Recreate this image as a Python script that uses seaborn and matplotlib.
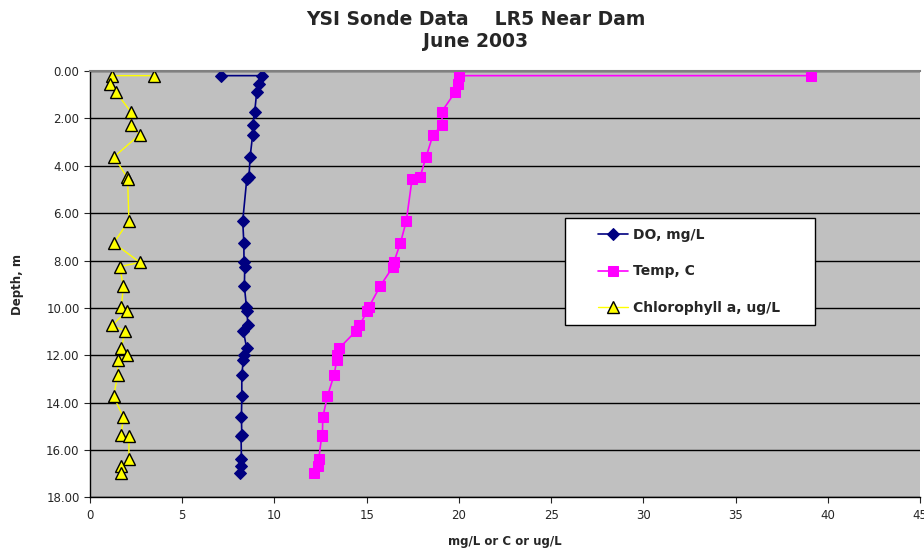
import numpy as np
import pandas as pd
import matplotlib
matplotlib.use('Agg')
import matplotlib.pyplot as plt
from matplotlib.lines import Line2D
from matplotlib.legend_handler import HandlerLine2D
import seaborn as sns

# sonde profile, first row is the surface reading
depth = [0.2, 0.2, 0.55, 0.88, 1.72, 2.28, 2.69, 3.63, 4.46, 4.56,
         6.33, 7.26, 8.08, 8.26, 9.08, 9.95, 10.12, 10.74, 10.97, 11.71,
         11.99, 12.21, 12.84, 13.73, 14.62, 15.38, 15.42, 16.38, 16.66, 16.98]
do_mgl = [7.09, 9.31, 9.16, 9.04, 8.93, 8.82, 8.82, 8.68, 8.62, 8.50,
          8.28, 8.34, 8.35, 8.39, 8.37, 8.48, 8.52, 8.55, 8.31, 8.50,
          8.37, 8.31, 8.23, 8.23, 8.21, 8.23, 8.19, 8.21, 8.16, 8.11]
temp_c = [39.08, 20.01, 19.97, 19.81, 19.07, 19.10, 18.60, 18.22, 17.90, 17.46,
          17.15, 16.83, 16.47, 16.43, 15.73, 15.13, 15.04, 14.61, 14.43, 13.50,
          13.38, 13.38, 13.23, 12.87, 12.62, 12.60, 12.56, 12.40, 12.35, 12.17]
chl_ugl = [3.47, 1.19, 1.08, 1.39, 2.21, 2.21, 2.69, 1.30, 1.99, 2.04,
           2.11, 1.28, 2.71, 1.61, 1.81, 1.70, 2.01, 1.19, 1.90, 1.70,
           2.02, 1.50, 1.50, 1.28, 1.81, 1.68, 2.11, 2.11, 1.70, 1.70]

df = pd.DataFrame({'depth': depth, 'do': do_mgl, 'temp': temp_c, 'chl': chl_ugl})

sns.set_style('white')
plt.rcParams['font.family'] = ['DejaVu Sans']

fig = plt.figure(figsize=(9.24, 5.54), dpi=100)
ax = fig.add_axes([0.0974, 0.102, 0.8983, 0.770])
ax.set_facecolor('#C0C0C0')

sns.lineplot(data=df, x='do', y='depth', sort=False, estimator=None, ax=ax,
             color='#000080', marker='D', markersize=6, markeredgecolor='#000080',
             linewidth=1.2, label='DO, mg/L')
sns.lineplot(data=df, x='temp', y='depth', sort=False, estimator=None, ax=ax,
             color='#FF00FF', marker='s', markersize=7, markeredgecolor='#FF00FF',
             linewidth=1.2, label='Temp, C')
sns.lineplot(data=df, x='chl', y='depth', sort=False, estimator=None, ax=ax,
             color='#FFFF00', marker='^', markersize=8, markeredgecolor='black',
             markeredgewidth=1.0, linewidth=1.0, label='Chlorophyll a, ug/L')

ax.set_xlim(0, 45)
ax.set_ylim(18, 0)
ax.set_xticks(range(0, 46, 5))
ax.set_yticks(np.arange(0, 18.1, 2))
ax.set_yticklabels([f'{v:.2f}' for v in np.arange(0, 18.1, 2)])
ax.yaxis.grid(True, color='black', linewidth=1)
ax.xaxis.grid(False)
ax.set_axisbelow(True)
ax.tick_params(axis='both', labelsize=8.5, length=4, direction='out', left=True, bottom=True)
ax.tick_params(axis='x', pad=4.5)

for side in ['left', 'bottom']:
    ax.spines[side].set_color('black')
    ax.spines[side].set_linewidth(1)
ax.spines['top'].set_color('#808080')
ax.spines['top'].set_linewidth(1.5)
ax.spines['right'].set_visible(False)

ax.set_xlabel('mg/L or C or ug/L', fontsize=8.5, fontweight='bold', labelpad=9)
ax.set_ylabel('Depth, m', fontsize=8.5, fontweight='bold', labelpad=16)
fig.text(0.515, 0.945, 'YSI Sonde Data    LR5 Near Dam\nJune 2003', fontsize=13.5,
         fontweight='bold', ha='center', va='center', linespacing=1.2)

leg = ax.legend(loc='upper left', bbox_to_anchor=(0.572, 0.40, 0.301, 0.255),
                mode='expand', frameon=True, fancybox=False, edgecolor='black',
                facecolor='white', framealpha=1, prop={'weight': 'bold', 'size': 10},
                borderpad=0.7, labelspacing=1.63, handlelength=3.83,
                handletextpad=0.36, borderaxespad=0,
                handler_map={Line2D: HandlerLine2D(xpad=1.68)})
leg.get_frame().set_linewidth(1)

fig.savefig('out.png', dpi=100)
